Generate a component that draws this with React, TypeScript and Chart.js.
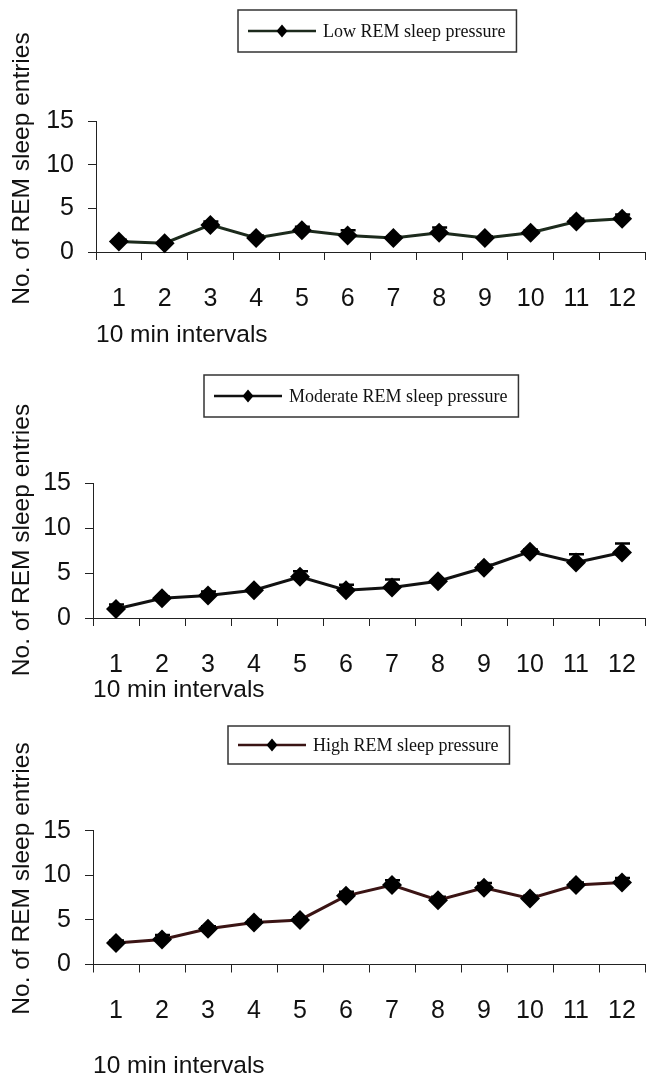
import React, { useEffect, useRef } from "react";
import { Chart, registerables } from "chart.js";

Chart.register(...registerables);

// ---------- data ----------
const intervals = ["1", "2", "3", "4", "5", "6", "7", "8", "9", "10", "11", "12"];
const yTickValues = [0, 5, 10, 15];
const xTitle = "10 min intervals";
const yTitle = "No. of REM sleep entries";

const lowLabel = "Low REM sleep pressure";
const lowMeans = [1.2, 1.0, 3.1, 1.6, 2.5, 1.9, 1.6, 2.2, 1.6, 2.2, 3.5, 3.8];
const lowErrors = [0.2, 0.2, 0.4, 0.3, 0.4, 0.6, 0.2, 0.6, 0.2, 0.3, 0.3, 0.5];

const moderateLabel = "Moderate REM sleep pressure";
const moderateMeans = [1.0, 2.2, 2.5, 3.1, 4.6, 3.1, 3.4, 4.1, 5.6, 7.4, 6.2, 7.3];
const moderateErrors = [0.5, 0.2, 0.45, 0.2, 0.6, 0.6, 0.9, 0.2, 0.35, 0.25, 0.9, 1.0];

const highLabel = "High REM sleep pressure";
const highMeans = [2.4, 2.8, 4.0, 4.7, 5.0, 7.7, 8.9, 7.2, 8.6, 7.4, 8.9, 9.2];
const highErrors = [0.3, 0.5, 0.3, 0.3, 0.3, 0.45, 0.55, 0.4, 0.55, 0.3, 0.3, 0.5];

// ---------- styling ----------
const SANS = "'Liberation Sans', Arial, Helvetica, sans-serif";
const SERIF = "'Liberation Serif', 'Times New Roman', serif";
const INK = "#111";

const errorBarsPlugin = {
  id: "errorBars",
  beforeDatasetsDraw(chart: any) {
    const { ctx } = chart;
    const xs = chart.scales.x;
    const ys = chart.scales.y;
    chart.data.datasets.forEach((ds: any) => {
      const errs: number[] = ds.errorBars || [];
      ctx.save();
      ctx.strokeStyle = "#000";
      ctx.lineWidth = 2.5;
      ds.data.forEach((v: number, i: number) => {
        const e = errs[i];
        if (!e) return;
        const px = xs.getPixelForValue(i);
        const y0 = ys.getPixelForValue(v);
        const y1 = ys.getPixelForValue(v + e);
        ctx.beginPath();
        ctx.moveTo(px, y0);
        ctx.lineTo(px, y1);
        ctx.moveTo(px - 7, y1);
        ctx.lineTo(px + 8, y1);
        ctx.stroke();
      });
      ctx.restore();
    });
  },
};

const boxLegendPlugin = {
  id: "boxLegend",
  afterDraw(chart: any, _args: any, opts: any) {
    if (!opts || !opts.display) return;
    const ctx = chart.ctx;
    const ds = chart.data.datasets[0];
    ctx.save();
    ctx.font = `${opts.fontSize}px ${SERIF}`;
    const tw = ctx.measureText(ds.label).width;
    const padL = 10, lineLen = 68, gap = 7, padR = 11;
    const w = padL + lineLen + gap + tw + padR;
    const left = opts.left, top = opts.top, h = opts.height;
    ctx.strokeStyle = "#333";
    ctx.lineWidth = 1.5;
    ctx.strokeRect(left, top, w, h);
    const cy = top + h / 2;
    ctx.strokeStyle = ds.borderColor;
    ctx.lineWidth = 2.5;
    ctx.beginPath();
    ctx.moveTo(left + padL, cy);
    ctx.lineTo(left + padL + lineLen, cy);
    ctx.stroke();
    const dx = left + padL + lineLen / 2;
    ctx.fillStyle = "#000";
    ctx.beginPath();
    ctx.moveTo(dx, cy - 6.5);
    ctx.lineTo(dx + 5.5, cy);
    ctx.lineTo(dx, cy + 6.5);
    ctx.lineTo(dx - 5.5, cy);
    ctx.closePath();
    ctx.fill();
    ctx.fillStyle = INK;
    ctx.textAlign = "left";
    ctx.textBaseline = "middle";
    ctx.fillText(ds.label, left + padL + lineLen + gap, cy + 1);
    ctx.restore();
  },
};

const yTitlePlugin = {
  id: "yTitle",
  afterDraw(chart: any, _args: any, opts: any) {
    if (!opts || !opts.text) return;
    const ctx = chart.ctx;
    ctx.save();
    ctx.translate(opts.x, chart.chartArea.bottom + opts.offset);
    ctx.rotate(-Math.PI / 2);
    ctx.font = `${opts.size}px ${SANS}`;
    ctx.fillStyle = INK;
    ctx.textAlign = "center";
    ctx.textBaseline = "middle";
    ctx.fillText(opts.text, 0, 0);
    ctx.restore();
  },
};

type PanelSpec = {
  top: number;
  height: number;
  label: string;
  means: number[];
  errors: number[];
  color: string;
  plotTop: number;
  plotBottom: number;
  plotLeft: number;
  plotRight: number;
  xTitlePad: number;
  legend: { left: number; top: number; height: number };
  yTitleOffset: number;
};

const WIDTH = 655;

const panels: PanelSpec[] = [
  {
    top: 0, height: 360, label: lowLabel, means: lowMeans, errors: lowErrors, color: "#1c2a1c",
    plotTop: 121, plotBottom: 252, plotLeft: 96, plotRight: 652, xTitlePad: 12.75,
    legend: { left: 238, top: 10, height: 42 }, yTitleOffset: -83.5,
  },
  {
    top: 360, height: 350, label: moderateLabel, means: moderateMeans, errors: moderateErrors, color: "#111111",
    plotTop: 123.5, plotBottom: 258, plotLeft: 93, plotRight: 652, xTitlePad: 7.75,
    legend: { left: 204, top: 15, height: 42 }, yTitleOffset: -78,
  },
  {
    top: 710, height: 368, label: highLabel, means: highMeans, errors: highErrors, color: "#3a1414",
    plotTop: 120.7, plotBottom: 254.5, plotLeft: 93, plotRight: 652, xTitlePad: 0,
    legend: { left: 228, top: 16, height: 38 }, yTitleOffset: -86,
  },
];

function buildConfig(p: PanelSpec): any {
  return {
    type: "line",
    data: {
      labels: intervals,
      datasets: [
        {
          label: p.label,
          data: p.means,
          errorBars: p.errors,
          borderColor: p.color,
          borderWidth: 3,
          pointStyle: "rectRot",
          pointRadius: 10,
          pointHoverRadius: 10,
          pointBackgroundColor: "#000",
          pointBorderColor: "#000",
          pointBorderWidth: 0,
          tension: 0,
          fill: false,
          clip: false,
        },
      ],
    },
    options: {
      responsive: false,
      animation: false,
      devicePixelRatio: 1,
      events: [],
      layout: { padding: { top: p.plotTop, right: WIDTH - p.plotRight, left: 0, bottom: 0 } },
      plugins: {
        legend: { display: false },
        tooltip: { enabled: false },
        boxLegend: { display: true, fontSize: 18, ...p.legend },
        yTitle: { text: yTitle, x: 22, offset: p.yTitleOffset, size: 24.5 },
      },
      scales: {
        x: {
          type: "category",
          offset: true,
          grid: { offset: true, drawOnChartArea: false, drawTicks: true, tickLength: 8, color: "#222", lineWidth: 1 },
          border: { display: true, color: "#222", width: 1 },
          ticks: { color: INK, font: { family: SANS, size: 25 }, padding: 24, maxRotation: 0, autoSkip: false },
          title: {
            display: true,
            text: xTitle,
            align: "start",
            color: INK,
            font: { family: SANS, size: 24.5, lineHeight: 1 },
            padding: { top: 0, bottom: p.xTitlePad },
          },
          afterFit: (s: any) => {
            s.height = p.height - p.plotBottom;
            s.paddingLeft = 0;
            s.paddingRight = 0;
          },
        },
        y: {
          min: yTickValues[0],
          max: yTickValues[yTickValues.length - 1],
          grid: { drawOnChartArea: false, drawTicks: true, tickLength: 8, color: "#222", lineWidth: 1 },
          border: { display: true, color: "#222", width: 1 },
          ticks: { color: INK, font: { family: SANS, size: 25 }, padding: 14 },
          afterBuildTicks: (s: any) => {
            s.ticks = yTickValues.map((v) => ({ value: v }));
          },
          afterFit: (s: any) => {
            s.width = p.plotLeft;
            s.paddingTop = 0;
            s.paddingBottom = 0;
          },
        },
      },
    },
    plugins: [errorBarsPlugin, boxLegendPlugin, yTitlePlugin],
  };
}

function Panel({ spec }: { spec: PanelSpec }) {
  const ref = useRef<HTMLCanvasElement | null>(null);
  useEffect(() => {
    if (!ref.current) return;
    const chart = new Chart(ref.current, buildConfig(spec));
    return () => chart.destroy();
  }, [spec]);
  return (
    <div style={{ position: "absolute", left: 0, top: spec.top, width: WIDTH, height: spec.height }}>
      <canvas ref={ref} width={WIDTH} height={spec.height} style={{ width: WIDTH, height: spec.height, display: "block" }} />
    </div>
  );
}

export default function App() {
  return (
    <div style={{ position: "fixed", left: 0, top: 0, width: WIDTH, height: 1078, background: "#fff", overflow: "hidden" }}>
      {panels.map((p, i) => (
        <Panel key={i} spec={p} />
      ))}
    </div>
  );
}
